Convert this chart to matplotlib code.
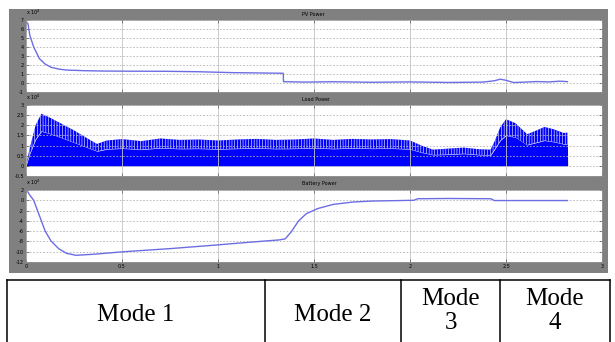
import matplotlib
matplotlib.use("Agg")
import matplotlib.pyplot as plt
from matplotlib.ticker import FormatStrFormatter

# PV power (x 10^4)
pv_t = [0, 0.01, 0.02, 0.04, 0.07, 0.10, 0.13, 0.17, 0.21, 0.30, 0.40, 0.55, 0.73,
        0.90, 1.08, 1.20, 1.34, 1.341, 1.45, 1.60, 1.80, 2.00, 2.20, 2.38, 2.44,
        2.47, 2.50, 2.54, 2.60, 2.66, 2.72, 2.78, 2.82]
pv_p = [6.8, 6.6, 5.3, 4.0, 2.7, 2.1, 1.75, 1.55, 1.44, 1.37, 1.33, 1.31, 1.30,
        1.25, 1.15, 1.12, 1.08, 0.15, 0.10, 0.14, 0.08, 0.12, 0.06, 0.10, 0.25,
        0.42, 0.30, 0.05, 0.10, 0.16, 0.12, 0.20, 0.15]

# Load power envelope (x 10^4): spike tops and solid body level
load_t = [0, 0.02, 0.05, 0.08, 0.12, 0.18, 0.25, 0.32, 0.37, 0.42, 0.50, 0.60,
          0.70, 0.80, 0.90, 1.00, 1.10, 1.20, 1.30, 1.40, 1.50, 1.60, 1.70,
          1.80, 1.90, 2.00, 2.06, 2.12, 2.20, 2.28, 2.36, 2.42, 2.44, 2.47,
          2.50, 2.55, 2.61, 2.66, 2.70, 2.75, 2.80, 2.82, 2.821]
load_top = [0, 0.9, 2.0, 2.57, 2.40, 2.10, 1.75, 1.35, 1.08, 1.25, 1.32, 1.22,
            1.35, 1.28, 1.30, 1.25, 1.30, 1.33, 1.28, 1.30, 1.35, 1.28, 1.33,
            1.30, 1.32, 1.25, 1.00, 0.80, 0.85, 0.90, 0.82, 0.80, 1.20, 1.90,
            2.30, 2.10, 1.56, 1.75, 1.92, 1.80, 1.62, 1.64, 0]
load_low = [0, 0.6, 1.3, 1.70, 1.60, 1.40, 1.15, 0.90, 0.72, 0.82, 0.86, 0.80,
            0.88, 0.84, 0.85, 0.82, 0.85, 0.87, 0.84, 0.85, 0.88, 0.84, 0.87,
            0.85, 0.86, 0.82, 0.66, 0.54, 0.56, 0.60, 0.54, 0.53, 0.80, 1.25,
            1.50, 1.40, 1.03, 1.15, 1.25, 1.18, 1.07, 1.08, 0]

# Battery power (x 10^4)
bat_t = [0, 0.01, 0.02, 0.04, 0.07, 0.10, 0.13, 0.17, 0.21, 0.26, 0.35, 0.51,
         0.75, 0.99, 1.15, 1.32, 1.35, 1.38, 1.42, 1.46, 1.52, 1.60, 1.70,
         1.80, 1.95, 2.02, 2.04, 2.20, 2.42, 2.44, 2.60, 2.82]
bat_p = [1.8, 1.6, 1.0, 0.0, -3.0, -6.0, -7.9, -9.4, -10.3, -10.7, -10.5, -10.0,
         -9.4, -8.7, -8.2, -7.7, -7.5, -6.2, -4.0, -2.6, -1.6, -0.8, -0.35,
         -0.15, -0.05, 0.0, 0.3, 0.35, 0.3, -0.05, -0.05, -0.05]

titles = ["PV Power", "Load Power", "Battery Power"]
x_ticks = [0, 0.5, 1, 1.5, 2, 2.5, 3]
pv_ticks = [-1, 0, 1, 2, 3, 4, 5, 6, 7]
load_ticks = [-0.5, 0, 0.5, 1, 1.5, 2, 2.5, 3]
bat_ticks = [-12, -10, -8, -6, -4, -2, 0, 2]

modes = ["Mode 1", "Mode 2", "Mode\n3", "Mode\n4"]
mode_edges = [7, 265, 401, 500, 610]

plt.rcParams["hatch.linewidth"] = 0.4

W, H = 615, 342
fig = plt.figure(figsize=(W / 100, H / 100), dpi=100)
fig.patch.set_facecolor("white")

# gray scope background, drawn behind the axes
bg = fig.add_axes([9 / W, 1 - 273 / H, 599 / W, 264 / H], zorder=-5)
bg.set_facecolor("#808080")
bg.set_xticks([])
bg.set_yticks([])
for s in bg.spines.values():
    s.set_visible(False)

line_c = "#6d6de3"
panels = [(20, 92), (105, 176), (190, 262)]
axes = []
for top, bot in panels:
    ax = fig.add_axes([26 / W, 1 - bot / H, 576 / W, (bot - top) / H])
    ax.set_facecolor("white")
    ax.set_xlim(0, 3)
    ax.set_xticks(x_ticks)
    ax.xaxis.set_major_formatter(FormatStrFormatter("%g"))
    ax.yaxis.set_major_formatter(FormatStrFormatter("%g"))
    ax.grid(axis="x", color="#c4c4c4", linestyle="-", linewidth=0.6)
    ax.grid(axis="y", color="#b4b4b4", linestyle=(0, (2, 2)), linewidth=0.6)
    ax.tick_params(direction="in", length=2.5, width=0.5, labelsize=3.5,
                   pad=1.5, right=True, top=True, colors="#555555",
                   labelcolor="black")
    for s in ax.spines.values():
        s.set_color("#9a9a9a")
        s.set_linewidth(0.5)
    axes.append(ax)

ax1, ax2, ax3 = axes
ax1.plot(pv_t, pv_p, color=line_c, linewidth=1.0)
ax1.set_ylim(-1, 7)
ax1.set_yticks(pv_ticks)

ax2.fill_between(load_t, 0, load_low, color="#0000ff", linewidth=0)
ax2.fill_between(load_t, load_low, load_top, facecolor="#0000ff",
                 edgecolor="white", hatch="||||||", linewidth=0)
ax2.set_ylim(-0.5, 3)
ax2.set_yticks(load_ticks)

ax3.plot(bat_t, bat_p, color=line_c, linewidth=1.0)
ax3.set_ylim(-12, 2)
ax3.set_yticks(bat_ticks)

for ax, t in zip(axes, titles):
    ax.text(0.48, 1.0 + 6 / 72, t, transform=ax.transAxes, fontsize=3.5,
            va="center", ha="left", color="black")
    ax.text(0.0, 1.04, r"x 10$^4$", transform=ax.transAxes, fontsize=3.5,
            va="bottom", ha="left", color="black")
ax1.tick_params(labelbottom=False)
ax2.tick_params(labelbottom=False)

# mode table below the scope
tab = fig.add_axes([0, 0, 1, 1], facecolor="none")
tab.set_xlim(0, W)
tab.set_ylim(H, 0)
tab.axis("off")
tab.plot([mode_edges[0], mode_edges[-1]], [280, 280], color="black", linewidth=1.1)
for xe in mode_edges:
    tab.plot([xe, xe], [280, H], color="black", linewidth=1.1)
for i, m in enumerate(modes):
    xc = (mode_edges[i] + mode_edges[i + 1]) / 2
    yc = 315 if "\n" not in m else 311
    tab.text(xc, yc, m, ha="center", va="center", fontsize=18,
             family="Liberation Serif", linespacing=1.15)

fig.savefig("out.png", dpi=100)
